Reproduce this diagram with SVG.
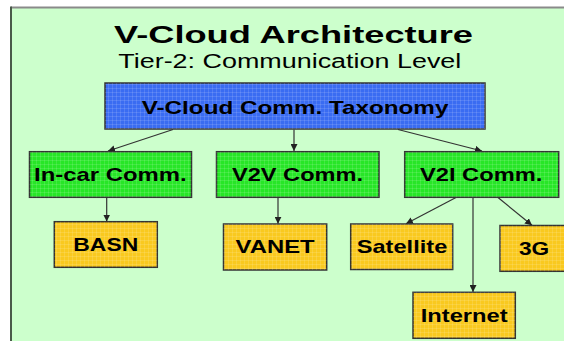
<svg xmlns="http://www.w3.org/2000/svg" width="564" height="341" viewBox="0 0 564 341">
<style>
.box{stroke:#333;stroke-width:1.5}
.blue{fill:#3a6cf2}
.green{fill:#27e627}
.gold{fill:#f9c91f}
.tex{fill:url(#grid)}
.lbl{font-family:"Liberation Sans",Arial,sans-serif;font-weight:bold;font-size:17.7px;fill:#000}
.conn{stroke:#333;stroke-width:1.2;fill:none;marker-end:url(#arr)}
</style>
<defs>
<pattern id="grid" width="4" height="4" patternUnits="userSpaceOnUse">
<path d="M0 0.5H4M0.5 0V4" stroke="#ffffff" stroke-opacity="0.12" stroke-width="1"/>
</pattern>
<marker id="arr" viewBox="0 0 10 10" refX="10" refY="5" markerWidth="7" markerHeight="7" markerUnits="userSpaceOnUse" orient="auto">
<path d="M0 0L10 5L0 10z" fill="#222"/>
</marker>
</defs>
<rect width="564" height="341" fill="#fff"/>
<rect x="11" y="7.5" width="560" height="340" fill="#ccffcc"/>
<line x1="11" y1="7.5" x2="564" y2="7.5" stroke="#8a8a8a" stroke-width="2"/>
<line x1="11" y1="6.5" x2="11" y2="341" stroke="#4a5a4a" stroke-width="2"/>
<text x="114" y="43.3" font-family="Liberation Sans,Arial,sans-serif" font-weight="bold" font-size="24" textLength="359" lengthAdjust="spacingAndGlyphs">V-Cloud Architecture</text>
<text x="118.3" y="68.3" font-family="Liberation Sans,Arial,sans-serif" font-size="19.5" textLength="343" lengthAdjust="spacingAndGlyphs">Tier-2: Communication Level</text>
<g id="connectors">
<line class="conn" x1="173" y1="129.5" x2="108" y2="151"/>
<line class="conn" x1="294" y1="129.5" x2="294" y2="151"/>
<line class="conn" x1="398" y1="129.5" x2="482" y2="151"/>
<line class="conn" x1="106.7" y1="197.5" x2="106.7" y2="221.5"/>
<line class="conn" x1="278" y1="197.5" x2="278" y2="223.8"/>
<line class="conn" x1="456" y1="197.5" x2="406" y2="223.8"/>
<line class="conn" x1="473" y1="197.5" x2="473" y2="292"/>
<line class="conn" x1="498" y1="197.5" x2="532" y2="225.3"/>
</g>
<g id="taxonomy">
<rect class="box blue" x="105" y="83" width="380" height="46"/>
<rect class="tex" x="105" y="83" width="380" height="46"/>
<text class="lbl" x="141.7" y="114" font-size="18" textLength="306.7" lengthAdjust="spacingAndGlyphs">V-Cloud Comm. Taxonomy</text>
</g>
<g id="incar">
<rect class="box green" x="29.5" y="151.7" width="162" height="45.6"/>
<rect class="tex" x="29.5" y="151.7" width="162" height="45.6"/>
<text class="lbl" x="34" y="181" textLength="152.7" lengthAdjust="spacingAndGlyphs">In-car Comm.</text>
</g>
<g id="v2v">
<rect class="box green" x="216.5" y="151.7" width="162.5" height="45.6"/>
<rect class="tex" x="216.5" y="151.7" width="162.5" height="45.6"/>
<text class="lbl" x="232" y="180.7" textLength="131" lengthAdjust="spacingAndGlyphs">V2V Comm.</text>
</g>
<g id="v2i">
<rect class="box green" x="404.7" y="151.7" width="154" height="45.6"/>
<rect class="tex" x="404.7" y="151.7" width="154" height="45.6"/>
<text class="lbl" x="420" y="180.7" textLength="122.3" lengthAdjust="spacingAndGlyphs">V2I Comm.</text>
</g>
<g id="basn">
<rect class="box gold" x="54.3" y="221.7" width="103" height="45.6"/>
<rect class="tex" x="54.3" y="221.7" width="103" height="45.6"/>
<text class="lbl" x="73.3" y="251" textLength="65" lengthAdjust="spacingAndGlyphs">BASN</text>
</g>
<g id="vanet">
<rect class="box gold" x="223.5" y="224" width="103.2" height="46"/>
<rect class="tex" x="223.5" y="224" width="103.2" height="46"/>
<text class="lbl" x="235.6" y="253.3" textLength="79" lengthAdjust="spacingAndGlyphs">VANET</text>
</g>
<g id="satellite">
<rect class="box gold" x="350.7" y="224" width="102" height="45.5"/>
<rect class="tex" x="350.7" y="224" width="102" height="45.5"/>
<text class="lbl" x="356.7" y="253.3" textLength="90.6" lengthAdjust="spacingAndGlyphs">Satellite</text>
</g>
<g id="g3">
<rect class="box gold" x="500" y="225.5" width="70" height="45.8"/>
<rect class="tex" x="500" y="225.5" width="70" height="45.8"/>
<text class="lbl" x="519" y="255" textLength="30.3" lengthAdjust="spacingAndGlyphs">3G</text>
</g>
<g id="internet">
<rect class="box gold" x="413" y="292.3" width="102.3" height="46"/>
<rect class="tex" x="413" y="292.3" width="102.3" height="46"/>
<text class="lbl" x="420.7" y="321.7" textLength="87" lengthAdjust="spacingAndGlyphs">Internet</text>
</g>
</svg>
